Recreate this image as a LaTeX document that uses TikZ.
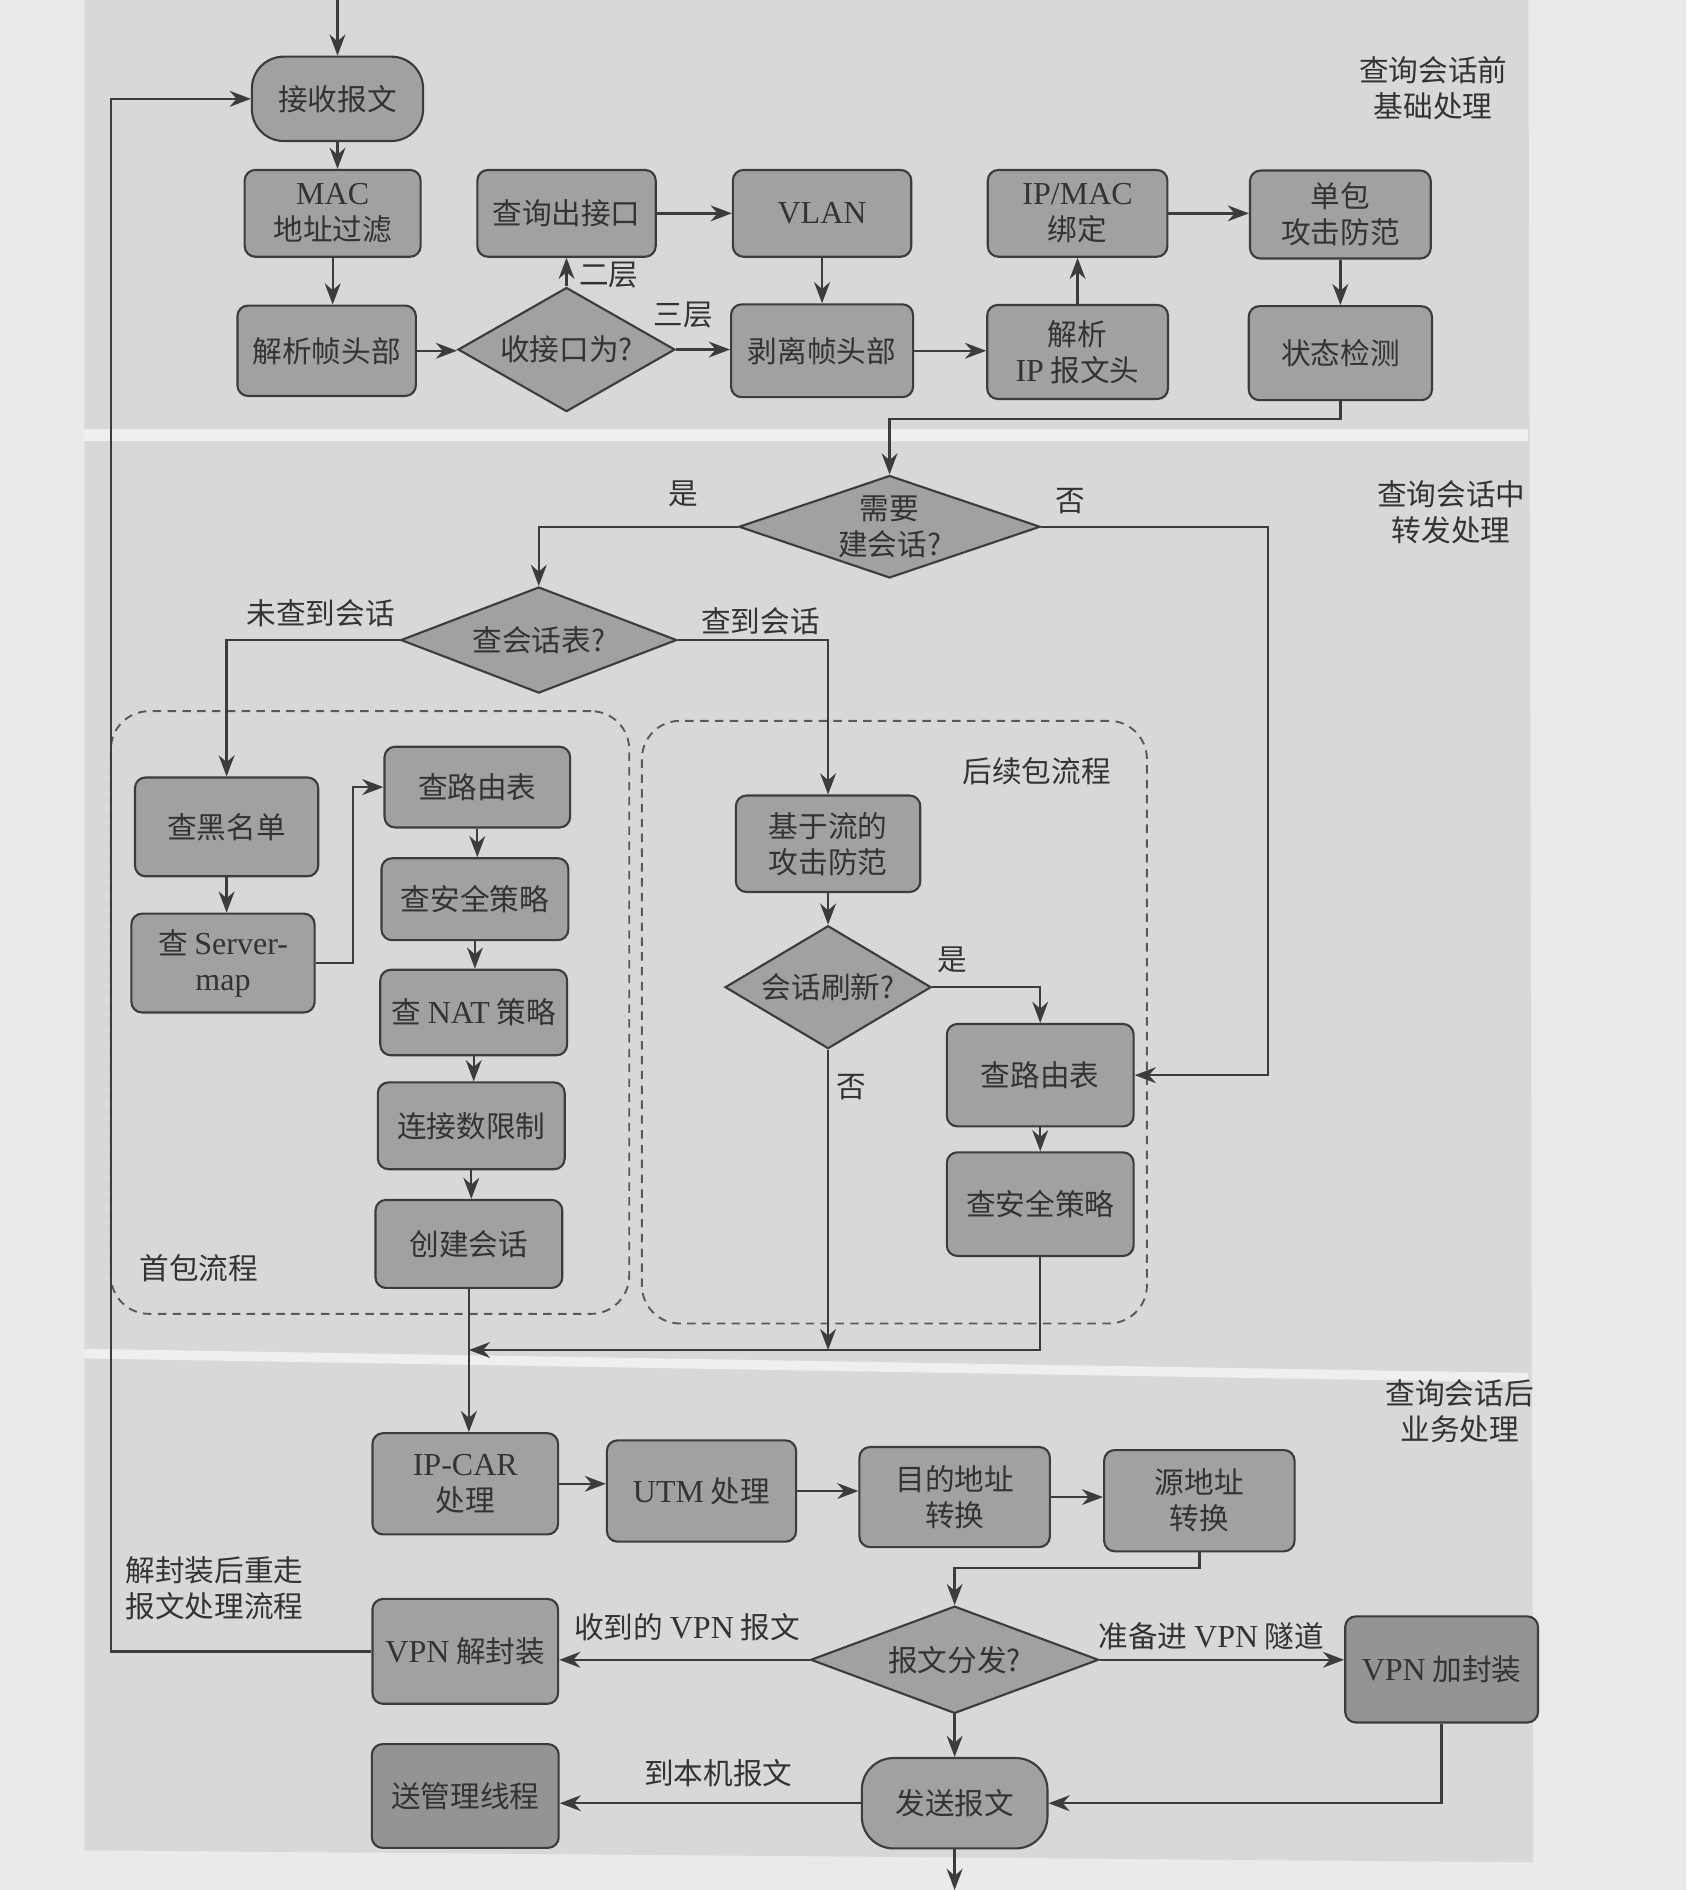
\documentclass[tikz,border=0pt]{standalone}
\usepackage{fontspec}
\setmainfont{Noto Sans CJK SC}
\newfontfamily\lat{Liberation Serif}[Scale=1.08]
\usetikzlibrary{shapes.geometric,arrows.meta}
\definecolor{pagebg}{HTML}{E9EBE9}
\definecolor{panel}{HTML}{D7D9D7}
\definecolor{sepc}{HTML}{EEF0EE}
\definecolor{boxfill}{HTML}{A0A1A0}
\definecolor{boxdark}{HTML}{939493}
\definecolor{ink}{HTML}{3C3C3C}
\definecolor{txt}{HTML}{333333}
\newcommand{\fs}{\fontsize{14pt}{17pt}\selectfont}
\tikzset{
  bx/.style 2 args={draw=ink, fill=boxfill, rounded corners=5pt, line width=1pt,
    minimum width=#1*0.02cm, minimum height=#2*0.02cm, inner sep=1pt,
    align=center, text=txt, font=\fs},
  term/.style 2 args={bx={#1}{#2}, rounded corners=15pt},
  dm/.style 2 args={diamond, draw=ink, fill=boxfill, line width=1pt,
    minimum width=#1*0.02cm, minimum height=#2*0.02cm, inner sep=0pt},
  dashbox/.style 2 args={draw=ink!85, dash pattern=on 4pt off 3pt, rounded corners=18pt,
    line width=0.9pt, minimum width=#1*0.02cm, minimum height=#2*0.02cm, inner sep=0pt},
  lbl/.style={text=txt, font=\fs, align=center, inner sep=0pt},
  ln/.style={draw=ink, line width=1.1pt},
  arr/.style={ln, -{Stealth[length=10pt,width=7.5pt]}},
}
\begin{document}
\begin{tikzpicture}[x=0.02cm,y=-0.02cm]
\useasboundingbox (0,0) rectangle (1399,1568);
% background
\fill[pagebg] (0,0) rectangle (1399,1568);
\fill[panel] (70,0) -- (1268,0) -- (1272,1545) -- (70,1535) -- cycle;
\fill[sepc] (70,356) rectangle (1268,366);
\fill[sepc] (70,1119) -- (1268,1139) -- (1268,1147) -- (70,1127) -- cycle;

% section labels
\node[lbl] (labA) at (1189,73) {查询会话前\\基础处理};
\node[lbl] (labB) at (1204,425) {查询会话中\\转发处理};
\node[lbl] (labC) at (1211,1171) {查询会话后\\业务处理};

% dashed groups
\node[dashbox={430}{500}] (grpA) at (307,840) {};
\node[dashbox={419}{500}] (grpB) at (742,848) {};
\node[lbl] (grpAl) at (165,1052) {首包流程};
\node[lbl] (grpBl) at (860,640) {后续包流程};

% section 1
\node[term={142}{70}] (recv) at (280,82) {接收报文};
\node[bx={146}{72}] (mac) at (276,177) {{\lat MAC}\\地址过滤};
\node[bx={148}{72}] (outif) at (470,177) {查询出接口};
\node[bx={148}{72}] (vlan) at (682,177) {{\lat VLAN}};
\node[bx={149}{72}] (ipmac) at (894,177) {{\lat IP/MAC}\\绑定};
\node[bx={150}{73}] (single) at (1112,178) {单包\\攻击防范};
\node[bx={148}{75}] (parse) at (271,291) {解析帧头部};
\node[dm={180}{103}, label={[lbl]center:收接口为?}] (rif) at (470,290) {};
\node[bx={151}{77}] (strip) at (682,291) {剥离帧头部};
\node[bx={150}{78}] (pip) at (894,292) {解析\\{\lat IP} 报文头};
\node[bx={152}{78}] (state) at (1112,293) {状态检测};

% section 2
\node[dm={250}{85}, label={[lbl]center:需要\\建会话?}] (needs) at (738,437) {};
\node[dm={229}{88}, label={[lbl]center:查会话表?}] (chk) at (447,531) {};
\node[bx={152}{82}] (black) at (188,686) {查黑名单};
\node[bx={152}{82}] (smap) at (185,799) {查 {\lat Server-}\\{\lat map}};
\node[bx={154}{67}] (route1) at (396,653) {查路由表};
\node[bx={155}{68}] (sec1) at (394,746) {查安全策略};
\node[bx={155}{71}] (nat) at (393,840) {查 {\lat NAT} 策略};
\node[bx={155}{72}] (conn) at (391,934) {连接数限制};
\node[bx={155}{73}] (create) at (389,1032) {创建会话};
\node[bx={153}{80}] (flow) at (687,700) {基于流的\\攻击防范};
\node[dm={171}{102}, label={[lbl]center:会话刷新?}] (refresh) at (687,819) {};
\node[bx={155}{85}] (route2) at (863,892) {查路由表};
\node[bx={155}{86}] (sec2) at (863,999) {查安全策略};

% section 3
\node[bx={154}{84}] (ipcar) at (386,1231) {{\lat IP-CAR}\\处理};
\node[bx={157}{84}] (utm) at (582,1237) {{\lat UTM} 处理};
\node[bx={158}{83}] (dst) at (792,1242) {目的地址\\转换};
\node[bx={158}{84}] (src) at (995,1245) {源地址\\转换};
\node[dm={239}{89}, label={[lbl]center:报文分发?}] (disp) at (792,1377) {};
\node[bx={154}{87}] (vpnd) at (386,1370) {{\lat VPN} 解封装};
\node[bx={160}{88}, fill=boxdark] (vpne) at (1196,1385) {{\lat VPN} 加封装};
\node[term={154}{75}] (send) at (792,1496) {发送报文};
\node[bx={155}{86}, fill=boxdark] (mgmt) at (386,1490) {送管理线程};

% edge labels
\node[lbl] (l2) at (505,228) {二层};
\node[lbl] (l3) at (567,261) {三层};
\node[lbl] (lyes1) at (567,410) {是};
\node[lbl] (lno1) at (888,416) {否};
\node[lbl] (lnf) at (266,509) {未查到会话};
\node[lbl] (lf) at (631,515) {查到会话};
\node[lbl] (lyes2) at (790,796) {是};
\node[lbl] (lno2) at (706,902) {否};
\node[lbl] (lrv) at (570,1350) {收到的 {\lat VPN} 报文};
\node[lbl] (ltun) at (1005,1357) {准备进 {\lat VPN} 隧道};
\node[lbl] (lloc) at (596,1471) {到本机报文};
\node[lbl, align=left] (lre) at (178,1318) {解封装后重走\\报文处理流程};

% coordinates
\coordinate (topin) at (280,0);
\coordinate (nr) at (1052,437);
\coordinate (mg) at (389,1120);
\coordinate (lp) at (92,1370);
\coordinate (out) at (792,1568);

% connectors section 1
\draw[arr] (topin) -- (recv.north);
\draw[arr] (recv.south) -- (recv.south |- mac.north);
\draw[arr] (mac.south) -- (mac.south |- parse.north);
\draw[arr] (parse.east) -- (parse.east -| rif.west);
\draw[arr] (rif.north) -- (outif.south);
\draw[arr] (rif.east) -- (rif.east -| strip.west);
\draw[arr] (outif.east) -- (outif.east -| vlan.west);
\draw[arr] (vlan.south) -- (strip.north);
\draw[arr] (strip.east) -- (strip.east -| pip.west);
\draw[arr] (pip.north) -- (ipmac.south);
\draw[arr] (ipmac.east) -- (ipmac.east -| single.west);
\draw[arr] (single.south) -- (state.north);
\draw[arr] (state.south) -- ++(0,15) -| (needs.north);

% connectors section 2
\draw[arr] (needs.west) -| (chk.north);
\draw[arr] (needs.east) -- (nr) |- (route2.east);
\draw[arr] (chk.west) -| (black.north);
\draw[arr] (chk.east) -| (flow.north);
\draw[arr] (black.south) -- (black.south |- smap.north);
\draw[arr] (smap.east) -- ++(31,0) |- (route1.west);
\draw[arr] (route1.south) -- (route1.south |- sec1.north);
\draw[arr] (sec1.south) -- (sec1.south |- nat.north);
\draw[arr] (nat.south) -- (nat.south |- conn.north);
\draw[arr] (conn.south) -- (conn.south |- create.north);
\draw[arr] (flow.south) -- (refresh.north);
\draw[arr] (refresh.east) -| (route2.north);
\draw[arr] (route2.south) -- (sec2.north);
\draw[arr] (refresh.south) -- (refresh.south |- mg);
\draw[arr] (sec2.south) |- (mg);
\draw[arr] (create.south) -- (create.south |- ipcar.north);

% connectors section 3
\draw[arr] (ipcar.east) -- (ipcar.east -| utm.west);
\draw[arr] (utm.east) -- (utm.east -| dst.west);
\draw[arr] (dst.east) -- (dst.east -| src.west);
\draw[arr] (src.south) -- ++(0,13) -| (disp.north);
\draw[arr] (disp.west) -- (disp.west -| vpnd.east);
\draw[arr] (disp.east) -- (disp.east -| vpne.west);
\draw[arr] (disp.south) -- (send.north);
\draw[arr] (send.west) -- (send.west -| mgmt.east);
\draw[arr] (vpne.south) |- (send.east);
\draw[arr] (send.south) -- (out);
\draw[arr] (vpnd.west) -- (lp) |- (recv.west);
\end{tikzpicture}
\end{document}
